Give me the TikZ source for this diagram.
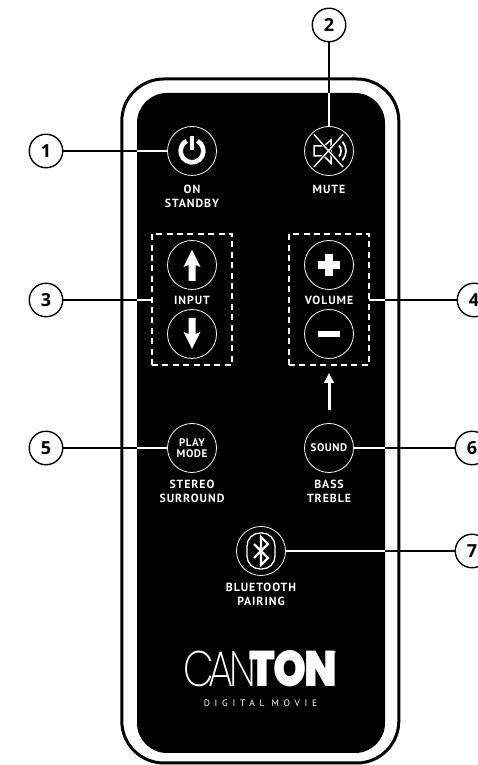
\documentclass[tikz,border=0pt]{standalone}
\usepackage{fontspec}
\usetikzlibrary{positioning}
\usetikzlibrary{arrows.meta}
\usetikzlibrary{fit}
\setmainfont{PT Sans}
\newfontfamily\capsfont[LetterSpace=8]{PT Sans}
\newfontfamily\btnfont[LetterSpace=5]{PT Sans}
\newfontfamily\tagfont[LetterSpace=50]{PT Sans}
\newfontfamily\numfont{Open Sans}
\newfontfamily\logothin{Poppins ExtraLight}
\newfontfamily\logoheavy{Poppins Black}
\tikzset{
  btn/.style={circle,draw=white,line width=0.8pt,minimum size=49pt,inner sep=0pt,outer sep=0pt,text=white},
  callout/.style={circle,draw=black,line width=1.4pt,fill=white,minimum size=33.5pt,inner sep=0pt,outer sep=0pt,font=\numfont\bfseries\fontsize{18}{18}\selectfont},
  caption/.style={text=white,align=center,inner sep=0pt,font=\capsfont\bfseries\fontsize{11.8}{13.8}\selectfont},
  btntext/.style={font=\btnfont\bfseries\fontsize{11}{11.5}\selectfont},
  dashbox/.style={draw=white,line width=1.1pt,dash pattern=on 6pt off 4.4pt,inner xsep=15.5pt,inner ysep=6.5pt,outer sep=0pt},
  blackline/.style={draw=black,line width=1.2pt},
  whiteline/.style={draw=white,line width=1.2pt},
  glyph/.style={fill=white,draw=none}
}
\begin{document}
\begin{tikzpicture}[x=1pt,y=1pt,on grid]
\path[use as bounding box,clip] (0,0) rectangle (478,765);
\fill[white] (0,0) rectangle (478,765);
% body of the remote
\node[draw=black,line width=3pt,rounded corners=42pt,minimum width=277pt,minimum height=684pt,inner sep=0pt,outer sep=0pt] (frame) at (260.3,344) {};
\node[fill=black,rounded corners=30pt,minimum width=248pt,minimum height=660pt,inner sep=0pt,outer sep=0pt] (panel) at (261,342) {};
%%%%%%%%%%%%%%
\node[btn] (power) at (192,614) {};
\node[btn,right=137pt of power] (mute) {};
\node[btn,below=114pt of power] (inup) {};
\node[btn,below=69pt of inup] (indown) {};
\node[btn,right=137pt of inup] (volup) {};
\node[btn,right=137pt of indown] (voldown) {};
\node[btn,btntext,align=center,below=114pt of indown] (playmode) {PLAY\\MODE};
\node[btn,btntext,right=137pt of playmode] (sound) {SOUND};
\node[btn,below right=103pt and 69pt of playmode] (bluetooth) {};
%%%%%%%%%%%%%%
\node[caption,below=45pt of power] (onlabel) {ON\\STANDBY};
\node[caption,below=38pt of mute] (mutelabel) {MUTE};
\node[caption,below=35pt of inup] (inputlabel) {INPUT};
\node[caption,below=35pt of volup] (volumelabel) {VOLUME};
\node[caption,below=43pt of playmode] (stereolabel) {STEREO\\SURROUND};
\node[caption,below=43pt of sound] (basslabel) {BASS\\TREBLE};
\node[caption,below=43.5pt of bluetooth] (pairlabel) {BLUETOOTH\\PAIRING};
%%%%%%%%%%%%%%
\node[dashbox,fit=(inup)(indown)] (inputbox) {};
\node[dashbox,fit=(volup)(voldown)] (volumebox) {};
%%%%%%%%%%%%%%
\node[callout,left=146pt of power] (c1) {1};
\node[callout,above=126pt of mute] (c2) {2};
\node[callout,left=146pt of inputlabel] (c3) {3};
\node[callout,right=145pt of volumelabel] (c4) {4};
\node[callout,left=146pt of playmode] (c5) {5};
\node[callout,right=143pt of sound] (c6) {6};
\node[callout,right=211pt of bluetooth] (c7) {7};
%%%%%%%%%%%%%%
\draw[blackline] (c1) -- (c1 -| panel.west);
\draw[whiteline] (c1 -| panel.west) -- (power);
\draw[blackline] (c2) -- (c2 |- panel.north);
\draw[whiteline] (c2 |- panel.north) -- (mute);
\draw[blackline] (c3) -- (c3 -| panel.west);
\draw[whiteline] (c3 -| panel.west) -- (c3 -| inputbox.west);
\draw[blackline] (c4) -- (c4 -| panel.east);
\draw[whiteline] (c4 -| panel.east) -- (c4 -| volumebox.east);
\draw[blackline] (c5) -- (c5 -| panel.west);
\draw[whiteline] (c5 -| panel.west) -- (playmode);
\draw[blackline] (c6) -- (c6 -| panel.east);
\draw[whiteline] (c6 -| panel.east) -- (sound);
\draw[blackline] (c7) -- (c7 -| panel.east);
\draw[whiteline] (c7 -| panel.east) -- (bluetooth);
%%%%%%%%%%%%%%
\coordinate[below=8pt of volumebox.south] (tiptop);
\coordinate[below=45pt of volumebox.south] (tipfoot);
\draw[draw=white,line width=3pt,-{Triangle[length=10pt,width=9.5pt]}] (tipfoot) -- (tiptop);
%%%%%%%%%%%%%%
% icons
\begin{scope}[shift={(power.center)}]
\draw[white,line width=4.6pt] (62:11.4) arc (62:-242:11.4);
\fill[white] (-2.3,1) rectangle (2.3,14.5);
\end{scope}
\begin{scope}[shift={(mute.center)},white]
\draw[line width=1.5pt] (-15,5) -- (-5,5) -- (2,11) -- (2,-12) -- (-5,-5) -- (-15,-5) -- cycle;
\draw[line width=1.7pt] (3,0) ++(-38:9) arc (-38:38:9);
\draw[line width=1.7pt] (3,0) ++(-42:14) arc (-42:42:14);
\draw[black,line width=3pt] (-15,16.5) -- (14,-16);
\draw[black,line width=3pt] (14,16.5) -- (-15,-16);
\draw[line width=1.4pt] (-15,16.5) -- (14,-16);
\draw[line width=1.4pt] (14,16.5) -- (-15,-16);
\end{scope}
\begin{scope}[shift={(inup.center)}]
\fill[glyph] (0,15) -- (8.5,-2) -- (3.5,0) -- (3.5,-16) -- (-3.5,-16) -- (-3.5,0) -- (-8.5,-2) -- cycle;
\end{scope}
\begin{scope}[shift={(indown.center)},yscale=-1]
\fill[glyph] (0,15) -- (8.5,-2) -- (3.5,0) -- (3.5,-16) -- (-3.5,-16) -- (-3.5,0) -- (-8.5,-2) -- cycle;
\end{scope}
\begin{scope}[shift={(volup.center)}]
\fill[glyph] (-11,-3.6) rectangle (11,3.6);
\fill[glyph] (-3.6,-11) rectangle (3.6,11);
\end{scope}
\begin{scope}[shift={(voldown.center)}]
\fill[glyph] (-11,-3.4) rectangle (11,3.4);
\end{scope}
\begin{scope}[shift={(bluetooth.center)},white]
\draw[line width=1.3pt,rounded corners=13pt] (-14,-18) rectangle (14,18);
\draw[line width=2.2pt] (-7,7) -- (7,-7) -- (0,-14) -- (0,14) -- (7,7) -- (-7,-7);
\end{scope}
%%%%%%%%%%%%%%
% logo
\node[text=white,inner sep=0pt] (logo) at (260.5,96.5) {\fontsize{50}{50}\selectfont\scalebox{.8}[1]{\logothin C\kern-7pt A\kern-6pt N\kern-6pt}\scalebox{.84}[1]{\logoheavy\kern-2pt T\kern-2pt O\kern-2pt N}};
\node[text=white,inner sep=0pt,font=\fontsize{4}{4}\selectfont] (regmark) at (335,112) {\textregistered};
\node[text=white,inner sep=0pt,below=34.5pt of logo,font=\tagfont\fontsize{9.4}{10}\selectfont] (tagline) {DIGITAL MOVIE};
\end{tikzpicture}
\end{document}
